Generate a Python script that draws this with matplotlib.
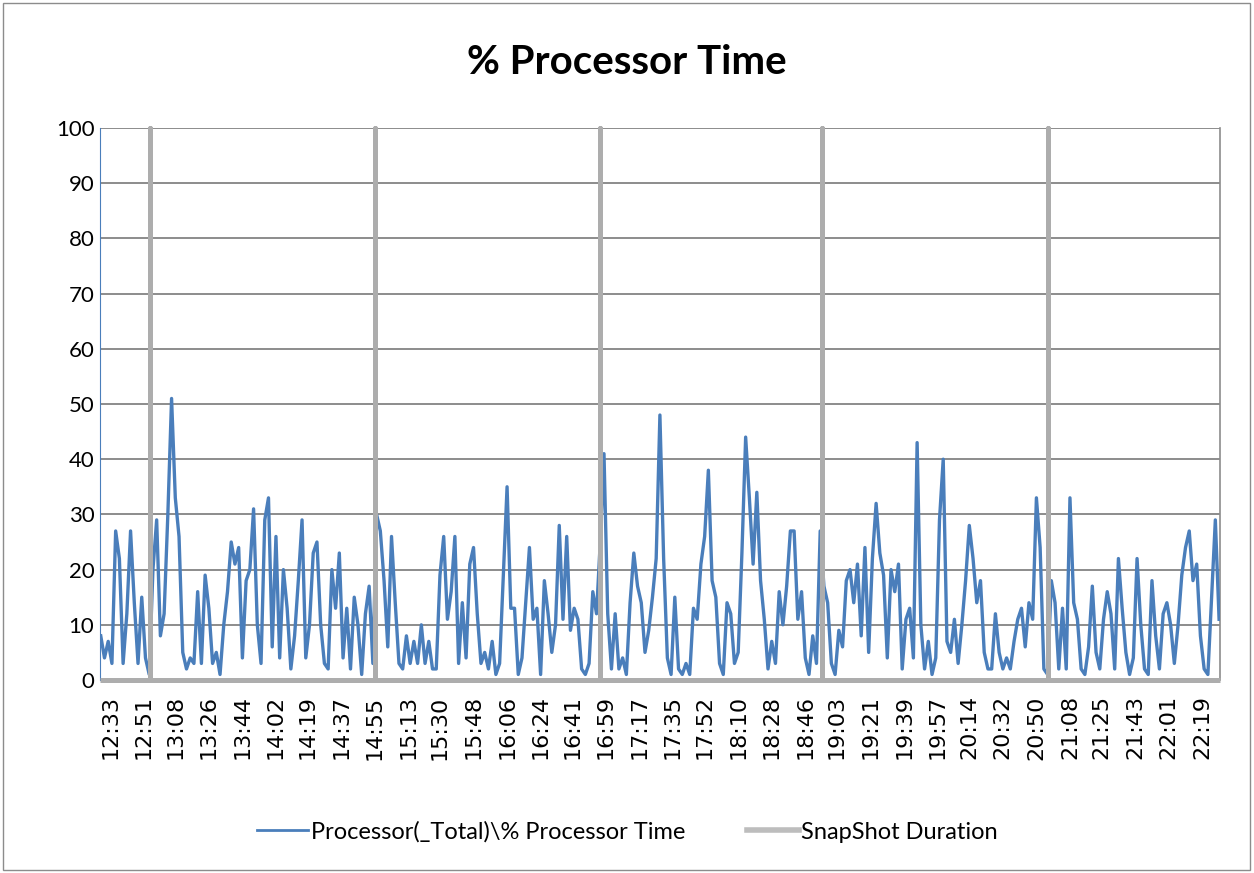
import numpy as np
import matplotlib; matplotlib.use('Agg'); import matplotlib.pyplot as plt
from matplotlib.patches import Rectangle

TITLE = '% Processor Time'
SERIES_CPU = 'Processor(_Total)\\% Processor Time'
SERIES_SNAP = 'SnapShot Duration'

tick_labels = ['12:33', '12:51', '13:08', '13:26', '13:44', '14:02', '14:19', '14:37',
               '14:55', '15:13', '15:30', '15:48', '16:06', '16:24', '16:41', '16:59',
               '17:17', '17:35', '17:52', '18:10', '18:28', '18:46', '19:03', '19:21',
               '19:39', '19:57', '20:14', '20:32', '20:50', '21:08', '21:25', '21:43',
               '22:01', '22:19']

# cpu samples, one every 2 minutes starting 5 minutes before 12:33
cpu_start = -5
cpu_step = 2
cpu = [8, 4, 7, 3, 27, 22, 3, 12, 27, 14,
       3, 15, 4, 1, 20, 29, 8, 12, 30, 51,
       33, 26, 5, 2, 4, 3, 16, 3, 19, 13,
       3, 5, 1, 10, 16, 25, 21, 24, 4, 18,
       20, 31, 10, 3, 29, 33, 6, 26, 4, 20,
       13, 2, 8, 18, 29, 4, 10, 23, 25, 10,
       3, 2, 20, 13, 23, 4, 13, 2, 15, 10,
       1, 12, 17, 3, 30, 27, 18, 6, 26, 14,
       3, 2, 8, 3, 7, 3, 10, 3, 7, 2,
       2, 19, 26, 11, 16, 26, 3, 14, 4, 21,
       24, 12, 3, 5, 2, 7, 1, 3, 19, 35,
       13, 13, 1, 4, 14, 24, 11, 13, 1, 18,
       12, 5, 10, 28, 11, 26, 9, 13, 11, 2,
       1, 3, 16, 12, 25, 41, 12, 2, 12, 2,
       4, 1, 14, 23, 17, 14, 5, 9, 15, 22,
       48, 22, 4, 1, 15, 2, 1, 3, 1, 13,
       11, 21, 26, 38, 18, 15, 3, 1, 14, 12,
       3, 5, 23, 44, 33, 21, 34, 18, 11, 2,
       7, 3, 16, 10, 17, 27, 27, 11, 16, 4,
       1, 8, 3, 27, 17, 14, 3, 1, 9, 6,
       18, 20, 14, 21, 8, 24, 5, 22, 32, 23,
       19, 4, 20, 16, 21, 2, 11, 13, 4, 43,
       10, 2, 7, 1, 4, 29, 40, 7, 5, 11,
       3, 10, 18, 28, 22, 14, 18, 5, 2, 2,
       12, 5, 2, 4, 2, 7, 11, 13, 6, 14,
       11, 33, 24, 2, 1, 18, 14, 2, 13, 2,
       33, 14, 11, 2, 1, 6, 17, 5, 2, 11,
       16, 12, 2, 22, 13, 5, 1, 4, 22, 10,
       2, 1, 18, 8, 2, 12, 14, 10, 3, 10,
       19, 24, 27, 18, 21, 8, 2, 1, 15, 29, 11]

# snapshot moments, minutes after 12:33
snap_times = [21.5, 142, 263, 382, 503]

def mins(s):
    h, m = s.split(':')
    return int(h) * 60 + int(m)

t0 = mins(tick_labels[0])
tick_pos = [mins(s) - t0 for s in tick_labels]
cpu_x = cpu_start + cpu_step * np.arange(len(cpu))
x_lo, x_hi = -5.4, 595.5

# snapshot series: 0 everywhere, 100 at the snapshot instants
sx, sy = [x_lo], [0]
for t in snap_times:
    sx += [t, t, t]; sy += [0, 100, 0]
sx.append(x_hi); sy.append(0)

fig = plt.figure(figsize=(12.54, 8.73), dpi=100)
ax = fig.add_axes([100/1254, 1-680/873, 1120/1254, 552/873])

ax.plot(cpu_x, cpu, color='#4A7EBB', lw=2.4, zorder=3)
ax.plot(sx, sy, color='#ADADAD', lw=3.6, zorder=4, clip_on=False, solid_capstyle='butt')

ax.set_xlim(x_lo, x_hi)
ax.set_ylim(0, 100)
ax.set_yticks(range(0, 101, 10))
ax.yaxis.grid(True, color='#8C8C8C', lw=1.4)
ax.set_axisbelow(True)
ax.set_xticks(tick_pos)
ax.set_xticklabels(tick_labels, rotation=90, fontsize=16, family='DejaVu Sans')
ax.tick_params(axis='x', length=0, pad=11)
ax.tick_params(axis='y', length=0, pad=4, labelsize=16)
for lab in ax.get_yticklabels():
    lab.set_family('Lato')

ax.spines['top'].set_visible(False)
ax.spines['bottom'].set_visible(False)
ax.spines['right'].set_color('#8C8C8C'); ax.spines['right'].set_linewidth(1.2)
ax.spines['left'].set_color('#4A7EBB'); ax.spines['left'].set_linewidth(0.8)

fig.text(0.5, 1-62/873, TITLE, ha='center', va='center', fontsize=29,
         fontweight='bold', family='Lato')

h1, = ax.plot([], [], color='#4A7EBB', lw=2.0)
h2, = ax.plot([], [], color='#BDBDBD', lw=4.0)
fig.legend([h1, h2], [SERIES_CPU, SERIES_SNAP], loc='center',
           bbox_to_anchor=(0.5, 1-832/873), ncol=2, frameon=False,
           prop={'family': 'Lato', 'size': 17}, handlelength=2.2,
           handletextpad=0.1, columnspacing=2.6)

fig.patches.append(Rectangle((0.002, 0.003), 0.995, 0.993, transform=fig.transFigure,
                             fill=False, edgecolor='#8C8C8C', lw=1))

fig.savefig('out.png', dpi=100)
